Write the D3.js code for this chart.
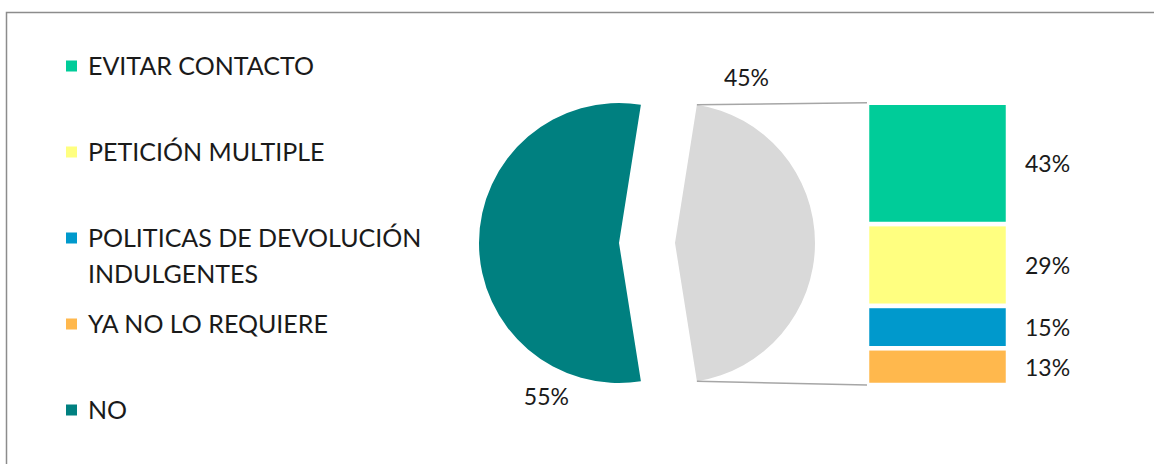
<!DOCTYPE html>
<html>
<head>
<meta charset="utf-8">
<script src="https://cdn.jsdelivr.net/npm/d3@7"></script>
<style>
  body { margin: 0; background: #fff; }
  text { font-family: Lato, "Open Sans", sans-serif; fill: #1a1a1a; }
</style>
</head>
<body>
<svg width="1154" height="464"></svg>
<script>
// pie: "NO" vs the grouped rest
const pieLabels = ["OTROS", "NO"];
const pieValues = [45, 55];
const pieColors = ["#D9D9D9", "#008080"];

// bar: breakdown of the grouped rest
const barLabels = ["EVITAR CONTACTO", "PETICIÓN MULTIPLE", "POLITICAS DE DEVOLUCIÓN INDULGENTES", "YA NO LO REQUIERE"];
const barValues = [43, 29, 15, 13];
const barColors = ["#00CC99", "#FFFF80", "#0099CC", "#FFB84D"];

const legendLabels = [["EVITAR CONTACTO"], ["PETICIÓN MULTIPLE"], ["POLITICAS DE DEVOLUCIÓN", "INDULGENTES"], ["YA NO LO REQUIERE"], ["NO"]];
const legendColors = ["#00CC99", "#FFFF80", "#0099CC", "#FFB84D", "#008080"];

const svg = d3.select("svg");

// outer frame (runs off the right and bottom of the picture)
svg.append("rect")
    .attr("x", 6.5).attr("y", 12.5)
    .attr("width", 1200).attr("height", 500)
    .attr("fill", "none")
    .attr("stroke", "#8c8c8c")
    .attr("stroke-width", 1.5);

// legend
const legend = svg.append("g");
legendLabels.forEach((lines, i) => {
    const y = 66 + i * 86;
    legend.append("rect")
        .attr("x", 66).attr("y", y - 5.5)
        .attr("width", 11).attr("height", 11)
        .attr("fill", legendColors[i]);
    lines.forEach((t, j) => {
        legend.append("text")
            .attr("x", 88).attr("y", y + 9 + j * 35.5)
            .attr("font-size", 25)
            .text(t);
    });
});

// pie
const cx = 619, cy = 243, r = 140, explode = 56;
const pie = d3.pie().sort(null)
    .startAngle(Math.PI / 2 - pieValues[0] / 100 * Math.PI)
    .endAngle(Math.PI / 2 - pieValues[0] / 100 * Math.PI + 2 * Math.PI);
const arcs = pie(pieValues);
const arc = d3.arc().innerRadius(0).outerRadius(r);

const pieG = svg.append("g").attr("transform", `translate(${cx},${cy})`);
pieG.selectAll("path")
    .data(arcs)
    .enter()
    .append("path")
    .attr("transform", (d, i) => i === 0 ? `translate(${explode},0)` : null)
    .attr("d", arc)
    .attr("fill", (d, i) => pieColors[i]);

// pie labels
function polar(a, rad) { return [Math.sin(a) * rad, -Math.cos(a) * rad]; }
const grayLab = polar(arcs[0].startAngle + 0.25, r * 1.29);
pieG.append("text")
    .attr("x", grayLab[0] + explode).attr("y", grayLab[1])
    .attr("text-anchor", "middle").attr("dominant-baseline", "central")
    .attr("font-size", 23)
    .text(pieValues[0] + "%");
const tealLab = polar(arcs[1].startAngle + 0.6, r * 1.21);
pieG.append("text")
    .attr("x", tealLab[0]).attr("y", tealLab[1])
    .attr("text-anchor", "middle").attr("dominant-baseline", "central")
    .attr("font-size", 23)
    .text(pieValues[1] + "%");

// stacked bar
const x = d3.scaleLinear().domain([0, 1]).range([867, 1008]);
const y = d3.scaleLinear().domain([0, 100]).range([102.75, 385]);
let acc = 0;
const segs = barValues.map((v, i) => {
    const s = { y0: acc, y1: acc + v, v, i };
    acc += v;
    return s;
});

svg.append("g").selectAll("rect")
    .data(segs)
    .enter()
    .append("rect")
    .attr("x", x(0))
    .attr("y", d => y(d.y0))
    .attr("width", x(1) - x(0))
    .attr("height", d => y(d.y1) - y(d.y0))
    .attr("fill", d => barColors[d.i])
    .attr("stroke", "#fff")
    .attr("stroke-width", 4.5);

svg.append("g").selectAll("text")
    .data(segs)
    .enter()
    .append("text")
    .attr("x", 1025)
    .attr("y", d => (y(d.y0) + y(d.y1)) / 2)
    .attr("dominant-baseline", "central")
    .attr("font-size", 23)
    .text(d => d.v + "%");

// connector lines from the exploded slice to the bar
const a0 = polar(arcs[0].startAngle, r), a1 = polar(arcs[0].endAngle, r);
const conn = [
    [[cx + explode + a0[0], cy + a0[1]], [x(0), y(0)]],
    [[cx + explode + a1[0], cy + a1[1]], [x(0), y(100)]]
];
svg.append("g").selectAll("line")
    .data(conn)
    .enter()
    .append("line")
    .attr("x1", d => d[0][0])
    .attr("y1", d => d[0][1])
    .attr("x2", d => d[1][0])
    .attr("y2", d => d[1][1])
    .attr("stroke", "#a6a6a6")
    .attr("stroke-width", 1.5);
</script>
</body>
</html>
